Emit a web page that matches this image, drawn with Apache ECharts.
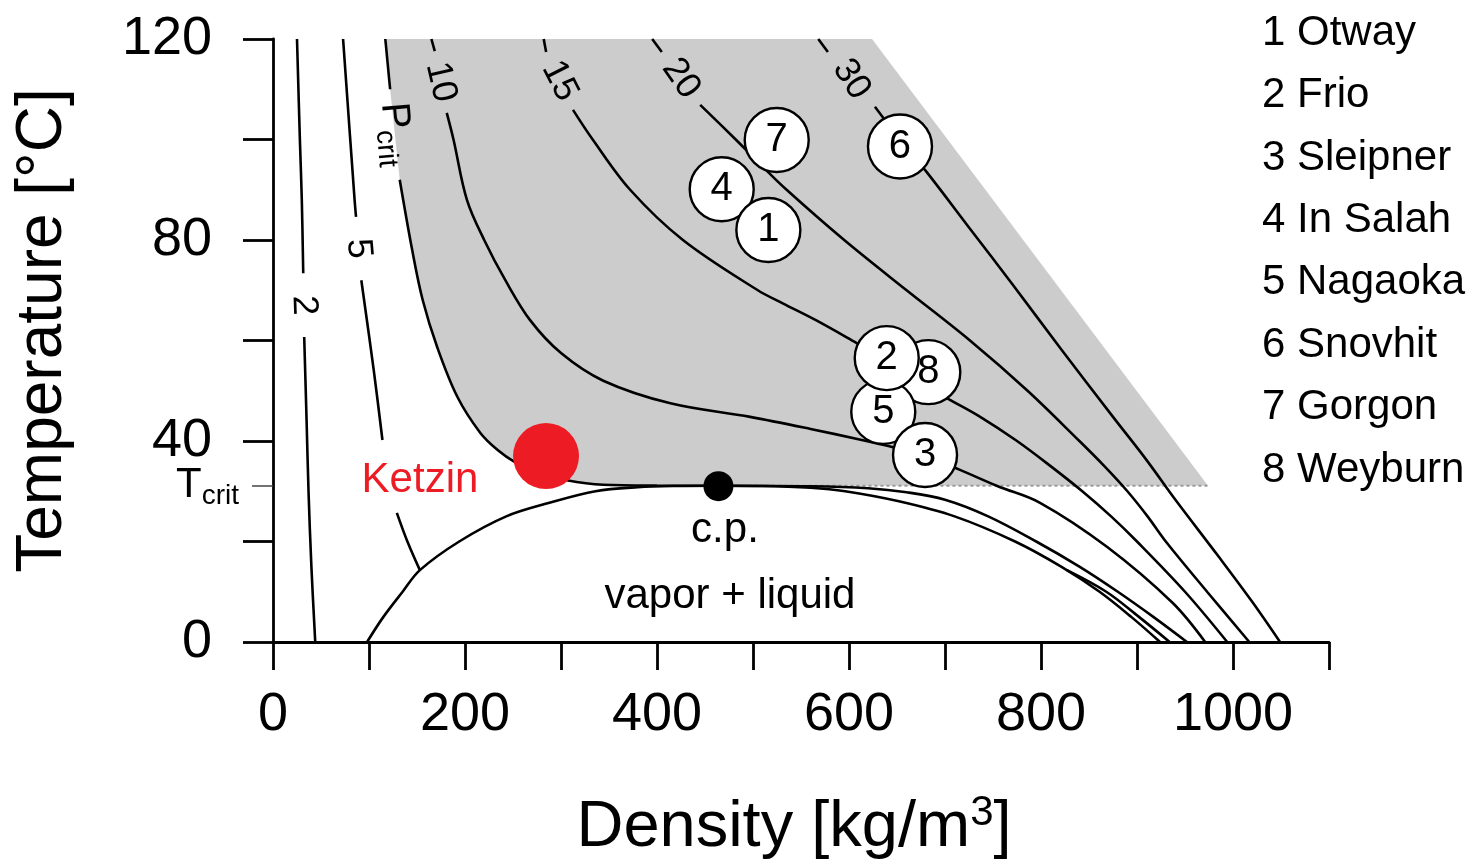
<!DOCTYPE html>
<html><head><meta charset="utf-8">
<script src="https://cdn.jsdelivr.net/npm/echarts@6/dist/echarts.min.js"></script>
<style>html,body{margin:0;padding:0;background:#fff}#c{width:1478px;height:859px}</style>
</head><body><div id="c"></div>
<script>
const FONT = '"Liberation Sans", Arial, Helvetica, sans-serif';
const TCRIT = 31.1;
const xTickLabels = [0, 200, 400, 600, 800, 1000];
const yTickLabels = [0, 40, 80, 120];

// saturation dome (density kg/m3, temperature °C)
const domeVapor  = [[98,0],[115,5],[135,10],[153,14.3],[194,20],[243,25],[288,27.7],[336,30],[380,30.8],[420,31.05],[463,31.1]];
const domeLiquid = [[463,31.1],[510,31.05],[560,30.7],[596,30],[652,28],[710,25],[773,20],[821,15],[861,10],[894,5],[924,0]];

// isobars (MPa)
const iso2     = [[25,120],[28,100],[30,88],[31.5,73.4],[32.5,60.7],[35,44],[37,30],[40,15],[44,0]];
const iso5     = [[73,120],[85,88],[86.5,84.6],[92,72],[105,54],[114,40.2],[129,25.7],[140,20],[153,14.3]];
const iso5Liq  = [[827,14.3],[868,10],[902,5],[934,0]];
const isoPc    = [[117,120],[122,110],[132,92],[145,78],[156,68],[171,58.7],[192,48.8],[216,41.6],[234,38.2],[252,35.8],[276,33.7],[306,32.2],[344,31.3],[400,31.12],[463,31.1]];
const isoPcLiq = [[463,31.1],[560,31.0],[620,30.6],[660,29.8],[700,28.3],[745,25],[795,20],[840,15],[880,10],[917,5],[952,0]];
const iso10    = [[165,120],[168.5,117.6],[181,105.3],[188,100],[202,88],[220,80],[242,72],[268,64],[300,57.5],[344,52],[414,47.5],[497,44.8],[560,42.4],[611,40.3],[645,38.8],[680,37],[715,34.3],[755,31],[799,27.7],[869,18.9],[937,7.8],[971,0]];
const iso15    = [[282,120],[284.5,117.4],[312.5,105.9],[333,100],[372,90],[427,80],[505,70],[531,67.4],[566,64],[608,59.5],[640,56],[698,49],[735,45],[775,40],[810,35],[843,30],[873,25],[900,20],[950,10],[994,0]];
const iso20    = [[395,120],[405,117.4],[445,106.9],[482,100],[508,95],[535,90],[595,80],[660,70],[726,60],[786,50],[840,40],[866,35],[890,30],[911,25],[930,20],[973,10],[1017,0]];
const iso30    = [[568,120],[578,117.4],[627,106.5],[653,100],[681,93.5],[725,82.5],[771,71],[820,58.5],[875,44.8],[910,36.2],[940,28.3],[985,17],[1020,8],[1049,0]];

// supercritical region corners
const shadeCorners = [[974,31.1],[624,120]];

// contour labels: text, position (density, T), rotation, gap on the line (T range)
const isoLabels = [
  {text:'2',  x:32,    T:67,    rot:-88, gaps:[[73.4,60.7]]},
  {text:'5',  x:89,    T:78.3,  rot:-85, gaps:[[84.6,72],[40.2,25.7]]},
  {text:'{p|P}{s|crit}', x:128, T:101, rot:-85, gaps:[[110,92]]},
  {text:'10', x:174.7, T:111.45,rot:-77, gaps:[[117.6,105.3]]},
  {text:'15', x:298.5, T:111.65,rot:-63, gaps:[[117.4,105.9]]},
  {text:'20', x:425,   T:112.15,rot:-55, gaps:[[117.4,106.9]]},
  {text:'30', x:602.5, T:111.95,rot:-57, gaps:[[117.4,106.5]]}
];
const isoCurves = [iso2, iso5, isoPc, iso10, iso15, iso20, iso30];

// storage sites
const siteNums  = ['1','2','3','4','5','6','7','8'];
const siteNames = ['Otway','Frio','Sleipner','In Salah','Nagaoka','Snovhit','Gorgon','Weyburn'];
const siteX     = [516, 639.3, 679.2, 467.4, 635.7, 653.1, 524.7, 682.6];
const siteT     = [82.0, 56.5, 37.2, 90.1, 45.8, 98.6, 99.9, 53.7];

const ketzin = [284.4, 37.0];
const critPoint = [464, 31.0];

function segments(pts, gaps) {
  const segs = []; let cur = [];
  pts.forEach(p => {
    if (gaps.some(g => p[1] < g[0] && p[1] > g[1])) return;
    if (cur.length) {
      const prev = cur[cur.length - 1];
      if (gaps.some(g => prev[1] >= g[0] && p[1] <= g[1])) { segs.push(cur); cur = []; }
    }
    cur.push(p);
  });
  if (cur.length) segs.push(cur);
  return segs;
}

function lineSer(pts, z) {
  return {type:'line', data:pts, symbol:'none', showSymbol:false, smooth:0.35,
          lineStyle:{color:'#000', width:2.6}, z:z || 3, silent:true, animation:false};
}

const series = [];
const shadePoly = isoPc.concat(shadeCorners);
series.push({type:'custom', coordinateSystem:'cartesian2d', data:[[0,0]], z:1, silent:true,
  renderItem:(params, api) => ({type:'polygon', shape:{points: shadePoly.map(p => api.coord(p)), smooth:0}, style:{fill:'#cccccc'}})});
series.push({type:'line', data:[[critPoint[0],TCRIT],[shadeCorners[0][0],TCRIT]], symbol:'none',
  lineStyle:{color:'#999', width:2, type:[3,3]}, z:2, silent:true});
series.push(lineSer(domeVapor.concat(domeLiquid.slice(1))));
series.push(lineSer(iso5Liq));
series.push(lineSer(isoPcLiq));
isoCurves.forEach((c, i) => segments(c, isoLabels[i].gaps).forEach(s => series.push(lineSer(s))));

series.push({type:'scatter', data:[ketzin], symbolSize:66, itemStyle:{color:'#ed1c24', opacity:1}, z:4, silent:true});
series.push({type:'scatter', data:[critPoint], symbolSize:30, itemStyle:{color:'#000', opacity:1}, z:4, silent:true});

const siteData = [];
for (let i = siteNums.length - 1; i >= 0; i--) siteData.push({name:siteNums[i], value:[siteX[i], siteT[i]]});
series.push({type:'scatter', data:siteData, symbolSize:64, z:5, silent:true,
  itemStyle:{color:'#fff', borderColor:'#000', borderWidth:2.4, opacity:1},
  label:{show:true, position:'inside', formatter:p => p.name, fontFamily:FONT, fontSize:40, color:'#000'}});

series.push({type:'scatter', symbolSize:1, itemStyle:{color:'#fff', opacity:0}, z:6, silent:true,
  data: isoLabels.map(l => ({value:[l.x, l.T], label:{rotate:l.rot, formatter:l.text}})),
  label:{show:true, position:'inside', fontFamily:FONT, fontSize:36, color:'#000', opacity:1,
    rich:{p:{fontFamily:FONT, fontSize:40, lineHeight:50, color:'#000'},
          s:{fontFamily:FONT, fontSize:28, lineHeight:46, verticalAlign:'bottom', color:'#000'}}}});

const annotations = [
  {text:'Ketzin', x:153.1, T:32.2, color:'#ed1c24'},
  {text:'c.p.', x:470.8, T:22.3, color:'#000'},
  {text:'vapor + liquid', x:476, T:9.0, color:'#000'}
];
series.push({type:'scatter', symbolSize:1, itemStyle:{color:'#fff', opacity:0}, z:6, silent:true,
  data: annotations.map(a => ({value:[a.x, a.T], label:{formatter:a.text, color:a.color}})),
  label:{show:true, position:'inside', fontFamily:FONT, fontSize:42, opacity:1}});

const chart = echarts.init(document.getElementById('c'));
chart.setOption({
  animation:false,
  backgroundColor:'#fff',
  grid:{left:273, right:149, top:39, bottom:217, containLabel:false, outerBoundsMode:'none'},
  xAxis:{type:'value', min:0, max:1100, interval:100,
    axisLine:{show:true, onZero:false, lineStyle:{color:'#000', width:2.8}},
    axisTick:{show:true, length:28, lineStyle:{color:'#000', width:2.8}},
    splitLine:{show:false},
    axisLabel:{customValues:xTickLabels, formatter:v => String(v), fontFamily:FONT, fontSize:54, color:'#000', margin:46},
    name:'Density [kg/m{sup|3}]', nameLocation:'middle', nameGap:150,
    nameTextStyle:{fontFamily:FONT, fontSize:65, color:'#000', lineHeight:72, padding:[0,14,0,0],
      rich:{sup:{fontFamily:FONT, fontSize:42, lineHeight:42, verticalAlign:'top', color:'#000'}}}},
  yAxis:[{type:'value', min:0, max:120, interval:20,
    axisLine:{show:true, onZero:false, lineStyle:{color:'#000', width:2.8}},
    axisTick:{show:true, length:30, lineStyle:{color:'#000', width:2.8}},
    splitLine:{show:false},
    axisLabel:{customValues:yTickLabels, formatter:v => String(v), fontFamily:FONT, fontSize:54, color:'#000', margin:61},
    name:'Temperature [°C]', nameLocation:'middle', nameRotate:90, nameGap:198,
    nameTextStyle:{fontFamily:FONT, fontSize:64, color:'#000', padding:[0,0,0,20]}},
   {type:'value', min:0, max:120, position:'left', offset:0,
    axisLine:{show:false}, splitLine:{show:false},
    axisTick:{show:true, customValues:[TCRIT], length:21, lineStyle:{color:'#444', width:1.5}},
    axisLabel:{customValues:[TCRIT], formatter:'{t|T}{s|crit}', margin:34,
      rich:{t:{fontFamily:FONT, fontSize:42, lineHeight:50, color:'#000'},
            s:{fontFamily:FONT, fontSize:28, lineHeight:34, verticalAlign:'bottom', color:'#000'}}}}],
  graphic:[{type:'text', left:1262, top:2, silent:true,
    style:{text: siteNums.map((n, i) => n + ' ' + siteNames[i]).join('\n'),
      fontFamily:FONT, fontSize:42, lineHeight:62.4, fill:'#000'}}],
  series: series
});
</script></body></html>
